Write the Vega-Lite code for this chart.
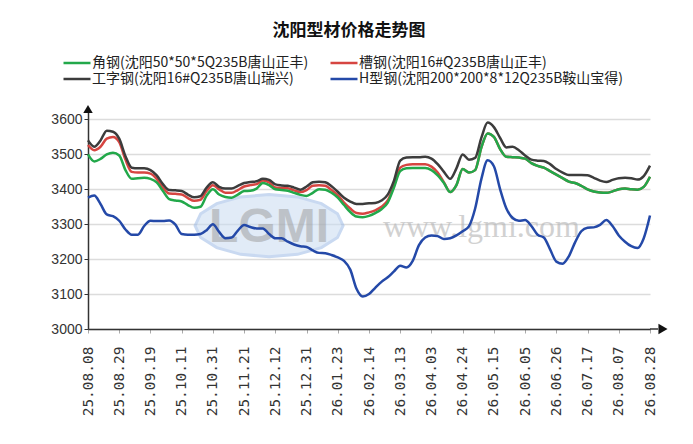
{
  "$schema": "https://vega.github.io/schema/vega-lite/v6.json",
  "width": 562,
  "height": 220,
  "autosize": {"type": "none"},
  "padding": {"left": 88, "top": 109, "right": 43, "bottom": 115},
  "background": "white",
  "title": {
    "text": "沈阳型材价格走势图",
    "font": "Noto Sans CJK SC",
    "fontSize": 17,
    "fontWeight": "bold",
    "color": "#111111",
    "anchor": "middle",
    "frame": "group",
    "dx": -20,
    "offset": 16
  },
  "config": {
    "view": {"stroke": null},
    "axis": {"labelFont": "Liberation Sans", "labelColor": "#333333", "title": null},
    "axisX": {
      "labelAngle": 270,
      "labelFont": "DejaVu Sans Mono",
      "labelFontSize": 14.5,
      "labelPadding": 13,
      "labelOverlap": false,
      "tickSize": 4,
      "tickColor": "#aaaaaa",
      "domainColor": "#333333",
      "domainWidth": 1.5,
      "grid": false
    },
    "axisY": {
      "format": "d",
      "tickCount": 7,
      "labelOverlap": false,
      "labelFontSize": 14,
      "labelPadding": 2,
      "tickSize": 4,
      "tickColor": "#333333",
      "domainColor": "#333333",
      "domainWidth": 1.5,
      "grid": true,
      "gridColor": "#dcdcdc",
      "gridWidth": 1.5
    }
  },
  "datasets": {
    "prices": [
      {"d": "25.08.08", "g": 3500, "r": 3527, "k": 3540, "b": 3376},
      {"d": "25.08.13", "g": 3480, "r": 3512, "k": 3522, "b": 3382},
      {"d": "25.08.18", "g": 3487, "r": 3522, "k": 3540, "b": 3358},
      {"d": "25.08.21", "g": 3500, "r": 3545, "k": 3568, "b": 3328},
      {"d": "25.08.26", "g": 3505, "r": 3550, "k": 3565, "b": 3323},
      {"d": "25.08.29", "g": 3497, "r": 3535, "k": 3545, "b": 3310},
      {"d": "25.09.03", "g": 3455, "r": 3485, "k": 3495, "b": 3285},
      {"d": "25.09.08", "g": 3430, "r": 3450, "k": 3462, "b": 3270},
      {"d": "25.09.11", "g": 3432, "r": 3448, "k": 3460, "b": 3270},
      {"d": "25.09.16", "g": 3433, "r": 3448, "k": 3460, "b": 3295},
      {"d": "25.09.19", "g": 3430, "r": 3445, "k": 3455, "b": 3310},
      {"d": "25.09.24", "g": 3420, "r": 3430, "k": 3440, "b": 3309},
      {"d": "25.09.26", "g": 3395, "r": 3405, "k": 3415, "b": 3309},
      {"d": "25.09.30", "g": 3372, "r": 3388, "k": 3398, "b": 3311},
      {"d": "25.10.09", "g": 3368, "r": 3387, "k": 3397, "b": 3299},
      {"d": "25.10.11", "g": 3365, "r": 3385, "k": 3395, "b": 3272},
      {"d": "25.10.16", "g": 3355, "r": 3375, "k": 3385, "b": 3270},
      {"d": "25.10.21", "g": 3347, "r": 3367, "k": 3377, "b": 3270},
      {"d": "25.10.24", "g": 3350, "r": 3370, "k": 3380, "b": 3272},
      {"d": "25.10.29", "g": 3382, "r": 3395, "k": 3405, "b": 3283},
      {"d": "25.10.31", "g": 3400, "r": 3412, "k": 3420, "b": 3300},
      {"d": "25.11.05", "g": 3385, "r": 3400, "k": 3407, "b": 3278},
      {"d": "25.11.10", "g": 3378, "r": 3390, "k": 3402, "b": 3260},
      {"d": "25.11.13", "g": 3376, "r": 3390, "k": 3402, "b": 3262},
      {"d": "25.11.18", "g": 3385, "r": 3398, "k": 3410, "b": 3282},
      {"d": "25.11.21", "g": 3395, "r": 3408, "k": 3418, "b": 3298},
      {"d": "25.11.26", "g": 3396, "r": 3412, "k": 3421, "b": 3292},
      {"d": "25.12.01", "g": 3402, "r": 3415, "k": 3423, "b": 3288},
      {"d": "25.12.04", "g": 3418, "r": 3425, "k": 3430, "b": 3288},
      {"d": "25.12.09", "g": 3412, "r": 3420, "k": 3427, "b": 3272},
      {"d": "25.12.12", "g": 3400, "r": 3405, "k": 3414, "b": 3260},
      {"d": "25.12.16", "g": 3398, "r": 3404, "k": 3411, "b": 3260},
      {"d": "25.12.19", "g": 3396, "r": 3403, "k": 3410, "b": 3250},
      {"d": "25.12.24", "g": 3390, "r": 3397, "k": 3405, "b": 3242},
      {"d": "25.12.29", "g": 3384, "r": 3392, "k": 3399, "b": 3237},
      {"d": "25.12.31", "g": 3381, "r": 3398, "k": 3408, "b": 3235},
      {"d": "26.01.06", "g": 3390, "r": 3410, "k": 3420, "b": 3225},
      {"d": "26.01.09", "g": 3400, "r": 3412, "k": 3422, "b": 3218},
      {"d": "26.01.14", "g": 3399, "r": 3410, "k": 3420, "b": 3217},
      {"d": "26.01.19", "g": 3390, "r": 3398, "k": 3409, "b": 3212},
      {"d": "26.01.23", "g": 3376, "r": 3383, "k": 3393, "b": 3205},
      {"d": "26.01.28", "g": 3355, "r": 3362, "k": 3376, "b": 3195},
      {"d": "26.02.02", "g": 3335, "r": 3345, "k": 3365, "b": 3170},
      {"d": "26.02.05", "g": 3322, "r": 3332, "k": 3358, "b": 3115},
      {"d": "26.02.10", "g": 3320, "r": 3330, "k": 3358, "b": 3093},
      {"d": "26.02.14", "g": 3324, "r": 3334, "k": 3360, "b": 3100},
      {"d": "26.02.25", "g": 3332, "r": 3340, "k": 3361, "b": 3118},
      {"d": "26.03.02", "g": 3343, "r": 3350, "k": 3368, "b": 3135},
      {"d": "26.03.05", "g": 3362, "r": 3368, "k": 3385, "b": 3148},
      {"d": "26.03.10", "g": 3405, "r": 3410, "k": 3425, "b": 3165},
      {"d": "26.03.13", "g": 3452, "r": 3462, "k": 3482, "b": 3181},
      {"d": "26.03.18", "g": 3460, "r": 3470, "k": 3491, "b": 3176},
      {"d": "26.03.23", "g": 3461, "r": 3472, "k": 3492, "b": 3195},
      {"d": "26.03.26", "g": 3461, "r": 3472, "k": 3492, "b": 3240},
      {"d": "26.03.31", "g": 3461, "r": 3472, "k": 3493, "b": 3262},
      {"d": "26.04.03", "g": 3455, "r": 3465, "k": 3488, "b": 3268},
      {"d": "26.04.09", "g": 3440, "r": 3448, "k": 3472, "b": 3266},
      {"d": "26.04.14", "g": 3418, "r": 3420, "k": 3450, "b": 3258},
      {"d": "26.04.17", "g": 3392, "r": 3392, "k": 3430, "b": 3260},
      {"d": "26.04.22", "g": 3412, "r": 3412, "k": 3460, "b": 3268},
      {"d": "26.04.24", "g": 3458, "r": 3458, "k": 3500, "b": 3280},
      {"d": "26.04.29", "g": 3448, "r": 3448, "k": 3485, "b": 3294},
      {"d": "26.05.06", "g": 3455, "r": 3455, "k": 3490, "b": 3345},
      {"d": "26.05.09", "g": 3520, "r": 3520, "k": 3548, "b": 3430},
      {"d": "26.05.13", "g": 3560, "r": 3560, "k": 3591, "b": 3483},
      {"d": "26.05.15", "g": 3550, "r": 3550, "k": 3578, "b": 3466},
      {"d": "26.05.20", "g": 3515, "r": 3515, "k": 3547, "b": 3400},
      {"d": "26.05.25", "g": 3493, "r": 3493, "k": 3520, "b": 3345},
      {"d": "26.05.28", "g": 3492, "r": 3492, "k": 3522, "b": 3318},
      {"d": "26.06.02", "g": 3491, "r": 3491, "k": 3512, "b": 3310},
      {"d": "26.06.05", "g": 3488, "r": 3488, "k": 3497, "b": 3312},
      {"d": "26.06.10", "g": 3475, "r": 3475, "k": 3485, "b": 3295},
      {"d": "26.06.15", "g": 3467, "r": 3467, "k": 3482, "b": 3270},
      {"d": "26.06.18", "g": 3462, "r": 3462, "k": 3481, "b": 3262},
      {"d": "26.06.23", "g": 3452, "r": 3452, "k": 3472, "b": 3228},
      {"d": "26.06.26", "g": 3442, "r": 3442, "k": 3458, "b": 3193},
      {"d": "26.07.01", "g": 3432, "r": 3432, "k": 3448, "b": 3187},
      {"d": "26.07.06", "g": 3422, "r": 3422, "k": 3441, "b": 3208},
      {"d": "26.07.09", "g": 3418, "r": 3418, "k": 3441, "b": 3248},
      {"d": "26.07.14", "g": 3410, "r": 3410, "k": 3441, "b": 3280},
      {"d": "26.07.17", "g": 3400, "r": 3400, "k": 3440, "b": 3290},
      {"d": "26.07.22", "g": 3394, "r": 3394, "k": 3433, "b": 3291},
      {"d": "26.07.27", "g": 3391, "r": 3391, "k": 3425, "b": 3298},
      {"d": "26.07.30", "g": 3390, "r": 3390, "k": 3421, "b": 3312},
      {"d": "26.08.04", "g": 3394, "r": 3394, "k": 3427, "b": 3295},
      {"d": "26.08.07", "g": 3400, "r": 3400, "k": 3432, "b": 3268},
      {"d": "26.08.12", "g": 3402, "r": 3402, "k": 3433, "b": 3250},
      {"d": "26.08.17", "g": 3400, "r": 3400, "k": 3432, "b": 3237},
      {"d": "26.08.20", "g": 3399, "r": 3399, "k": 3428, "b": 3232},
      {"d": "26.08.25", "g": 3407, "r": 3407, "k": 3438, "b": 3260},
      {"d": "26.08.28", "g": 3436, "r": 3436, "k": 3468, "b": 3325}
    ],
    "series": [
      {"s": "g", "name": "角钢(沈阳50*50*5Q235B唐山正丰)"},
      {"s": "r", "name": "槽钢(沈阳16#Q235B唐山正丰)"},
      {"s": "k", "name": "工字钢(沈阳16#Q235B唐山瑞兴)"},
      {"s": "b", "name": "H型钢(沈阳200*200*8*12Q235B鞍山宝得)"}
    ],
    "one": [{}]
  },
  "layer": [
    {
      "data": {"name": "one"},
      "mark": {
        "type": "point",
        "shape": "M1,0L0.924,0.161L0.707,0.297L0.383,0.388L0,0.42L-0.383,0.388L-0.707,0.297L-0.924,0.161L-1,0L-0.924,-0.161L-0.707,-0.297L-0.383,-0.388L0,-0.42L0.383,-0.388L0.707,-0.297L0.924,-0.161Z",
        "filled": true,
        "fill": "#c9dcf2",
        "stroke": "#9dbbe6",
        "strokeWidth": 3,
        "opacity": 0.55,
        "size": 21904
      },
      "encoding": {
        "x": {
          "datum": "25.12.09",
          "type": "ordinal",
          "axis": {"values": ["25.08.08", "25.08.29", "25.09.19", "25.10.11", "25.10.31", "25.11.21", "25.12.12", "25.12.31", "26.01.23", "26.02.14", "26.03.13", "26.04.03", "26.04.24", "26.05.15", "26.06.05", "26.06.26", "26.07.17", "26.08.07", "26.08.28"]}
        },
        "y": {
          "datum": 3296,
          "type": "quantitative",
          "axis": {"values": [3000, 3100, 3200, 3300, 3400, 3500, 3600]}
        }
      }
    },
    {
      "data": {"name": "one"},
      "mark": {
        "type": "text",
        "text": "LGMI",
        "font": "Liberation Sans",
        "fontSize": 48,
        "fontWeight": "bold",
        "fill": "#9a9a9a",
        "opacity": 0.5
      },
      "encoding": {
        "x": {"datum": "25.12.09", "type": "ordinal"},
        "y": {"datum": 3290, "type": "quantitative"}
      }
    },
    {
      "data": {"name": "one"},
      "mark": {
        "type": "text",
        "text": "www.lgmi.com",
        "font": "Liberation Serif",
        "fontSize": 32,
        "fill": "#b4b4b4",
        "opacity": 0.6
      },
      "encoding": {
        "x": {"datum": "26.05.09", "type": "ordinal"},
        "y": {"datum": 3293, "type": "quantitative"}
      }
    },
    {
      "data": {"name": "prices"},
      "transform": [
        {"fold": ["r", "g", "k", "b"], "as": ["s", "v"]},
        {"lookup": "s", "from": {"data": {"name": "series"}, "key": "s", "fields": ["name"]}},
        {"filter": "datum.s == 'r'"}
      ],
      "mark": {"type": "line", "strokeWidth": 2.5, "interpolate": "monotone"},
      "encoding": {
        "x": {
          "field": "d",
          "type": "ordinal",
          "scale": {"type": "point", "padding": 0},
          "axis": {"values": ["25.08.08", "25.08.29", "25.09.19", "25.10.11", "25.10.31", "25.11.21", "25.12.12", "25.12.31", "26.01.23", "26.02.14", "26.03.13", "26.04.03", "26.04.24", "26.05.15", "26.06.05", "26.06.26", "26.07.17", "26.08.07", "26.08.28"]}
        },
        "y": {
          "field": "v",
          "type": "quantitative",
          "scale": {"domain": [3000, 3630], "nice": false, "zero": false},
          "axis": {"values": [3000, 3100, 3200, 3300, 3400, 3500, 3600]}
        },
        "color": {
          "field": "name",
          "type": "nominal",
          "scale": {
            "domain": ["角钢(沈阳50*50*5Q235B唐山正丰)", "槽钢(沈阳16#Q235B唐山正丰)", "工字钢(沈阳16#Q235B唐山瑞兴)", "H型钢(沈阳200*200*8*12Q235B鞍山宝得)"],
            "range": ["#22a84a", "#d64541", "#3c3c3c", "#2449a8"]
          },
          "legend": {
            "title": null,
            "orient": "none",
            "direction": "horizontal",
            "legendX": -18,
            "legendY": -53,
            "columns": 2,
            "symbolType": "M-3,0L3,0",
            "symbolSize": 81,
            "symbolStrokeWidth": 2.5,
            "labelFont": "Noto Sans CJK SC",
            "labelFontSize": 14,
            "labelColor": "#222222",
            "labelLimit": 400,
            "labelOffset": 8,
            "columnPadding": 16,
            "rowPadding": 2
          }
        }
      }
    },
    {
      "data": {"name": "prices"},
      "transform": [
        {"fold": ["r", "g", "k", "b"], "as": ["s", "v"]},
        {"lookup": "s", "from": {"data": {"name": "series"}, "key": "s", "fields": ["name"]}},
        {"filter": "datum.s != 'r'"}
      ],
      "mark": {"type": "line", "strokeWidth": 2.5, "interpolate": "monotone"},
      "encoding": {
        "x": {"field": "d", "type": "ordinal"},
        "y": {"field": "v", "type": "quantitative"},
        "color": {"field": "name", "type": "nominal"}
      }
    },
    {
      "data": {"name": "one"},
      "mark": {"type": "point", "shape": "triangle-up", "filled": true, "color": "#111111", "opacity": 1, "size": 90},
      "encoding": {
        "x": {"datum": "25.08.08", "type": "ordinal"},
        "y": {"datum": 3630, "type": "quantitative"}
      }
    },
    {
      "data": {"name": "one"},
      "mark": {"type": "rule", "color": "#333333", "strokeWidth": 1.5, "x2Offset": 8},
      "encoding": {
        "x": {"datum": "26.08.28", "type": "ordinal"},
        "x2": {"datum": "26.08.28"},
        "y": {"datum": 3000, "type": "quantitative"}
      }
    },
    {
      "data": {"name": "one"},
      "mark": {"type": "point", "shape": "triangle-right", "filled": true, "color": "#111111", "opacity": 1, "size": 110, "xOffset": 13},
      "encoding": {
        "x": {"datum": "26.08.28", "type": "ordinal"},
        "y": {"datum": 3000, "type": "quantitative"}
      }
    }
  ]
}
